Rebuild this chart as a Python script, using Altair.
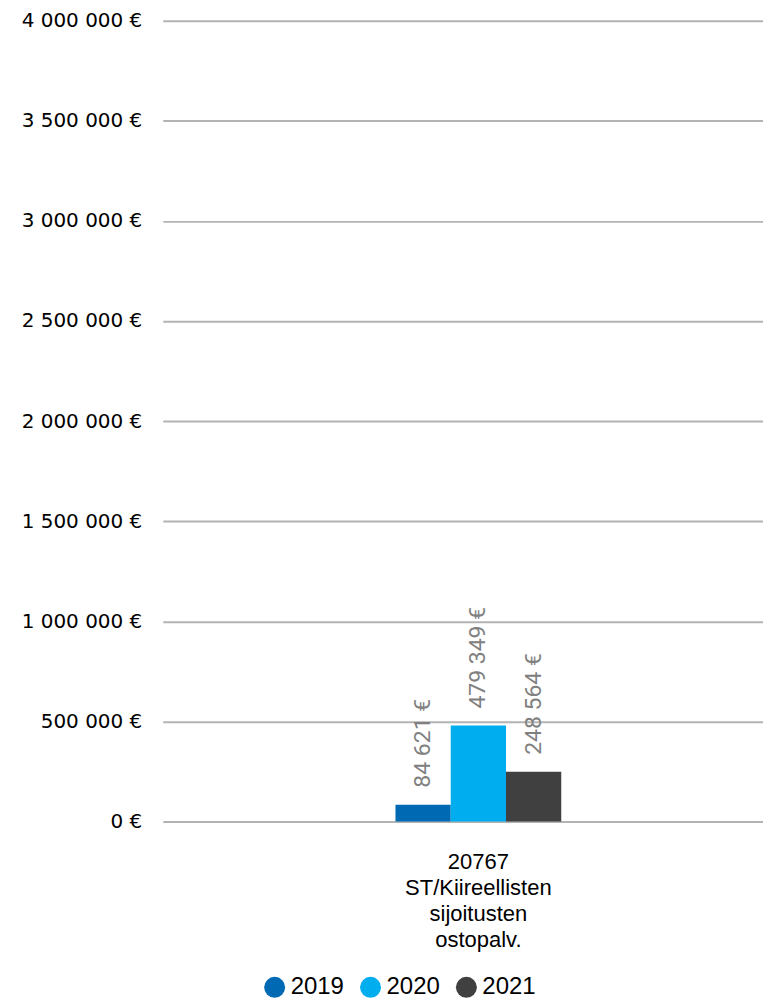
import altair as alt
import pandas as pd

category_lines = ["20767", "ST/Kiireellisten", "sijoitusten", "ostopalv."]
years = ["2019", "2020", "2021"]
values = [84621, 479349, 248564]
colors = ["#0069b4", "#00adef", "#404040"]
y_ticks = [0, 500000, 1000000, 1500000, 2000000, 2500000, 3000000, 3500000, 4000000]

category = "|".join(category_lines)
df = pd.DataFrame({
    "category": [category] * len(years),
    "year": years,
    "value": values,
})
df["label"] = [f"{v:,}".replace(",", " ") + " €" for v in values]

x = alt.X(
    "category:N",
    title=None,
    scale=alt.Scale(paddingInner=0.2368, paddingOuter=1, align=0.5356),
    axis=alt.Axis(
        labelExpr="split(datum.label, '|')",
        labelAngle=0,
        labelFont="Liberation Sans",
        labelFontSize=22,
        labelLineHeight=26,
        labelColor="#000000",
        labelPadding=30,
        ticks=False,
        domain=False,
        grid=False,
    ),
)
xoff = alt.XOffset("year:N", sort=years, scale=alt.Scale(paddingInner=0, paddingOuter=0))
y = alt.Y(
    "value:Q",
    title=None,
    scale=alt.Scale(domain=[0, 4000000], nice=False),
    axis=alt.Axis(
        values=y_ticks,
        labelExpr="replace(format(datum.value, ',d'), /,/g, ' ') + ' €'",
        ticks=False,
        domain=False,
        gridColor="#b3b3b3",
        gridWidth=2,
        labelFont="DejaVu Sans",
        labelFontSize=20,
        labelPadding=21,
        labelColor="#000000",
    ),
)

bars = alt.Chart(df).mark_bar().encode(
    x=x,
    xOffset=xoff,
    y=y,
    color=alt.Color(
        "year:N",
        scale=alt.Scale(domain=years, range=colors),
        legend=alt.Legend(
            title=None,
            orient="none",
            direction="horizontal",
            legendX=100,
            legendY=956,
            symbolType="circle",
            symbolSize=441,
            symbolStrokeWidth=0,
            labelFont="Liberation Sans",
            labelFontSize=24,
            labelColor="#000000",
            labelOffset=4,
            columnPadding=14,
        ),
    ),
)

labels = alt.Chart(df).mark_text(
    angle=270,
    align="left",
    baseline="middle",
    dx=17,
    font="Roboto",
    fontSize=23,
    color="#808080",
).encode(x=x, xOffset=xoff, y=y, text="label:N")

chart = (
    alt.layer(bars, labels)
    .properties(width=601, height=802, padding={"left": 13, "top": 2, "right": 0, "bottom": 0})
    .configure(background="white", view=alt.ViewConfig(strokeWidth=0, stroke="transparent"))
)

chart.save("out.html", embed_options={"renderer": "svg", "actions": False})
